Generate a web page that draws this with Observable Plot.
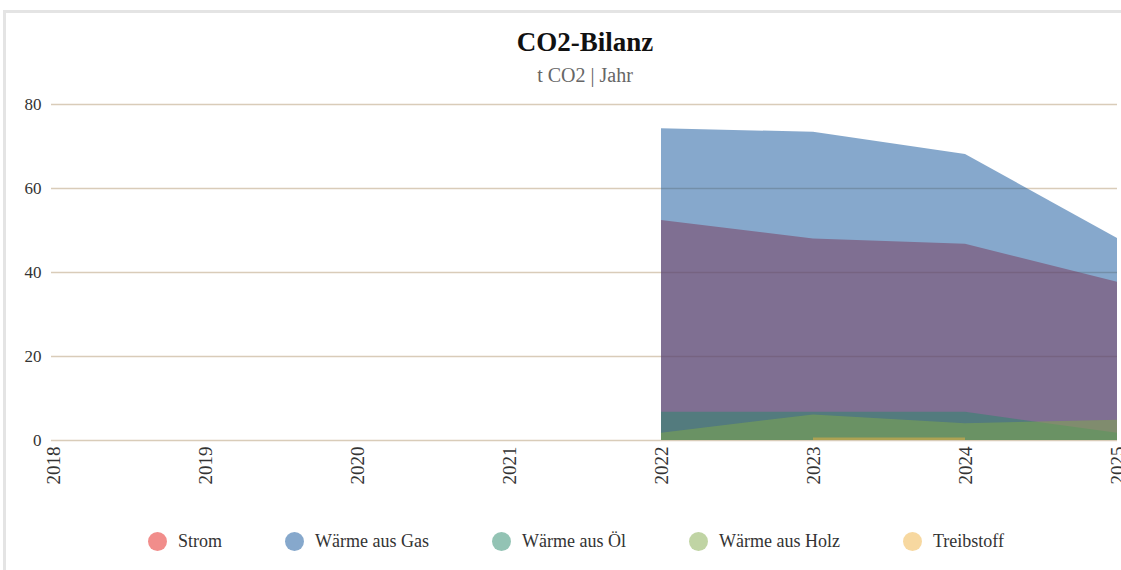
<!DOCTYPE html>
<html>
<head>
<meta charset="utf-8">
<script src="https://cdn.jsdelivr.net/npm/d3@7"></script>
<script src="https://cdn.jsdelivr.net/npm/@observablehq/plot@0.6"></script>
<style>
  html, body { margin: 0; padding: 0; background: #fff; overflow: hidden; }
  body { width: 1121px; height: 570px; position: relative; font-family: "Liberation Serif", "DejaVu Serif", serif; }
  #frame { position: absolute; left: 3px; top: 10px; width: 1300px; height: 700px; border-left: 3px solid #e4e4e4; border-top: 3px solid #e4e4e4; }
  #title { position: absolute; left: 0; width: 1170px; top: 27px; text-align: center; font-weight: bold; font-size: 27px; color: #111; }
  #subtitle { position: absolute; left: 0; width: 1170px; top: 64px; text-align: center; font-size: 20px; color: #666; }
  #chart { position: absolute; left: 0; top: 80px; }
  #legend { position: absolute; left: 0; width: 1152px; top: 530px; display: flex; justify-content: center; gap: 63px; font-size: 18px; color: #333; }
  .item { display: flex; align-items: center; gap: 11px; line-height: 22px; }
  .sw { width: 19px; height: 19px; border-radius: 50%; }
  g[aria-label="x-axis tick label"] { font-size: 19px; }
</style>
</head>
<body>
<div id="frame"></div>
<div id="title">CO2-Bilanz</div>
<div id="subtitle">t CO2 | Jahr</div>
<div id="chart"></div>
<div id="legend"></div>
<script>
const years = [2022, 2023, 2024, 2025];
const seriesNames = ["Strom", "Wärme aus Gas", "Wärme aus Öl", "Wärme aus Holz", "Treibstoff"];
const strom = [52.4, 48.0, 46.7, 37.7];
const waermeGas = [74.2, 73.4, 68.1, 48.1];
const waermeOel = [6.7, 6.7, 6.7, 1.7];
const waermeHolz = [1.7, 6.1, 4.0, 4.8];
const treibstoff = [null, 0.6, 0.6, null];
const xTicks = [2018, 2019, 2020, 2021, 2022, 2023, 2024, 2025];
const yTicks = [0, 20, 40, 60, 80];
const colors = ["#e31c18", "#0d5199", "#278769", "#81a949", "#efb141"];

const valuesBySeries = [strom, waermeGas, waermeOel, waermeHolz, treibstoff];
const data = [];
seriesNames.forEach((s, i) => years.forEach((y, j) => data.push({series: s, year: y, value: valuesBySeries[i][j]})));

const plot = Plot.plot({
  width: 1121,
  height: 420,
  marginTop: 24,
  marginBottom: 60,
  marginLeft: 51,
  marginRight: 4,
  style: {fontFamily: "Liberation Serif, serif", fontSize: "17px", color: "#333", background: "transparent", overflow: "visible"},
  x: {domain: [2018, 2025], range: [53, 1117], ticks: xTicks, tickFormat: d => String(d), tickRotate: -90, tickSize: 0, tickPadding: 6, label: null},
  y: {domain: [0, 80], ticks: yTicks, tickSize: 0, tickPadding: 10, label: null},
  color: {domain: seriesNames, range: colors},
  marks: [
    Plot.ruleY(yTicks, {stroke: "#d9ccb9", strokeWidth: 1.5}),
    Plot.areaY(data, {x: "year", y1: 0, y2: "value", z: "series", fill: "series", fillOpacity: 0.5, curve: "linear"})
  ]
});
document.getElementById("chart").appendChild(plot);

const legend = document.getElementById("legend");
seriesNames.forEach((s, i) => {
  const it = document.createElement("div");
  it.className = "item";
  const sw = document.createElement("span");
  sw.className = "sw";
  sw.style.background = colors[i];
  sw.style.opacity = 0.5;
  const t = document.createElement("span");
  t.textContent = s;
  it.appendChild(sw); it.appendChild(t);
  legend.appendChild(it);
});
</script>
</body>
</html>
